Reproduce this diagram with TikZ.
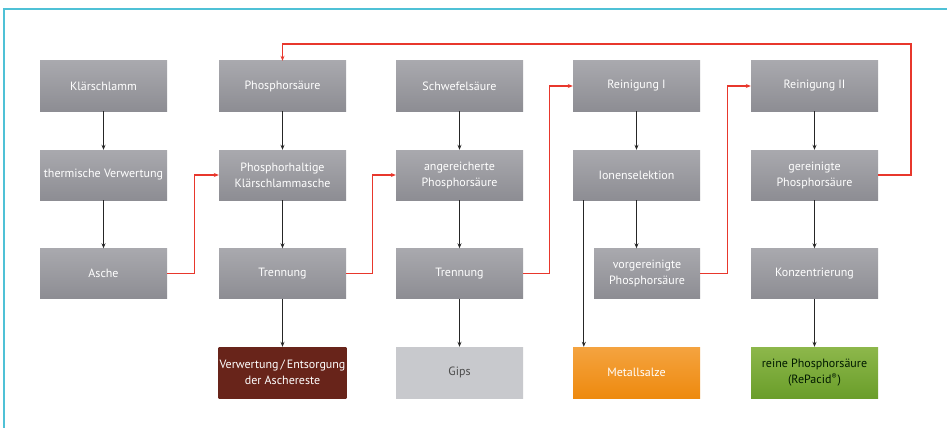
\documentclass[tikz,border=0pt]{standalone}
\usepackage{fontspec}
\setmainfont{PT Sans}
\usetikzlibrary{arrows.meta,calc}
\definecolor{boxtop}{HTML}{A9A9AE}
\definecolor{boxbot}{HTML}{8D8D93}
\definecolor{redline}{HTML}{E8372C}
\definecolor{frame}{HTML}{4FC1D6}
\definecolor{brownbox}{HTML}{68241A}
\definecolor{gipsbox}{HTML}{C8C9CD}
\definecolor{orangetop}{HTML}{F4A340}
\definecolor{orangebot}{HTML}{EE8A0E}
\definecolor{greentop}{HTML}{8DB74B}
\definecolor{greenbot}{HTML}{6A9E2A}
\tikzset{
  box/.style={rectangle, minimum width=127pt, minimum height=50pt, inner sep=1pt,
    align=center, text=white, font=\fontsize{12}{16}\selectfont,
    top color=boxtop, bottom color=boxbot, draw=none},
  arr/.style={line width=1.1pt, draw=black!85, -{Stealth[length=5pt,width=4pt]}},
  rarr/.style={line width=1.1pt, draw=redline, -{Stealth[length=5pt,width=4pt]}},
}
\begin{document}
\begin{tikzpicture}[x=1pt,y=-1pt]
\useasboundingbox (0,0) rectangle (947,428);
\fill[white] (0,0) rectangle (947,428);
\draw[frame, line width=1.6pt] (4,428) -- (4,9) -- (947,9);

% column 1
\node[box] (kls) at (103.5,86) {Klärschlamm};
\node[box] (thv) at (103.5,175) {thermische Verwertung};
\node[box] (asc) at (103.5,273.5) {Asche};
% column 2
\node[box] (phs) at (282.5,86) {Phosphorsäure};
\node[box] (phk) at (282.5,175) {Phosphorhaltige\\Klärschlammasche};
\node[box] (tr1) at (282.5,273.5) {Trennung};
\node[box, top color=brownbox, bottom color=brownbox, minimum height=51pt] (ver) at (282.5,372.5) {Verwertung\,/\,Entsorgung\\der Aschereste};
% column 3
\node[box] (sws) at (459.5,86) {Schwefelsäure};
\node[box] (anp) at (459.5,175) {angereicherte\\Phosphorsäure};
\node[box] (tr2) at (459.5,273.5) {Trennung};
\node[box, top color=gipsbox, bottom color=gipsbox, text=black!70, minimum height=51pt] (gip) at (459.5,372.5) {Gips};
% column 4
\node[box] (re1) at (636.5,86) {Reinigung I};
\node[box] (ion) at (636.5,175) {Ionenselektion};
\node[box, minimum width=106pt] (vor) at (647,273.5) {vorgereinigte\\Phosphorsäure};
\node[box, top color=orangetop, bottom color=orangebot, minimum height=51pt] (met) at (636.5,372.5) {Metallsalze};
% column 5
\node[box] (re2) at (814.5,86) {Reinigung II};
\node[box] (gep) at (814.5,175) {gereinigte\\Phosphorsäure};
\node[box] (kon) at (814.5,273.5) {Konzentrierung};
\node[box, top color=greentop, bottom color=greenbot, text=black!75!green!40!black, minimum height=51pt] (rph) at (814.5,372.5) {reine Phosphorsäure\\(RePacid\textsuperscript{®})};

% black arrows
\draw[arr] (kls) -- (thv);
\draw[arr] (thv) -- (asc);
\draw[arr] (phs) -- (phk);
\draw[arr] (phk) -- (tr1);
\draw[arr] (tr1) -- (ver);
\draw[arr] (sws) -- (anp);
\draw[arr] (anp) -- (tr2);
\draw[arr] (tr2) -- (gip);
\draw[arr] (re1) -- (ion);
\draw[arr] (ion.south) -- (ion.south |- vor.north);
\draw[arr] ([xshift=11pt]ion.south west) -- ([xshift=11pt]met.north west);
\draw[arr] (re2) -- (gep);
\draw[arr] (gep) -- (kon);
\draw[arr] (kon) -- (rph);

% red connectors
\draw[rarr] (asc.east) -- ++(27,0) |- (phk.west);
\draw[rarr] (tr1.east) -- ++(26,0) |- (anp.west);
\draw[rarr] (tr2.east) -- ++(26,0) |- (re1.west);
\draw[rarr] (vor.east) -- ++(27,0) |- (re2.west);
\coordinate (loop) at (911,44);
\draw[rarr] (gep.east) -| (loop) -| (phs.north);
\end{tikzpicture}
\end{document}
